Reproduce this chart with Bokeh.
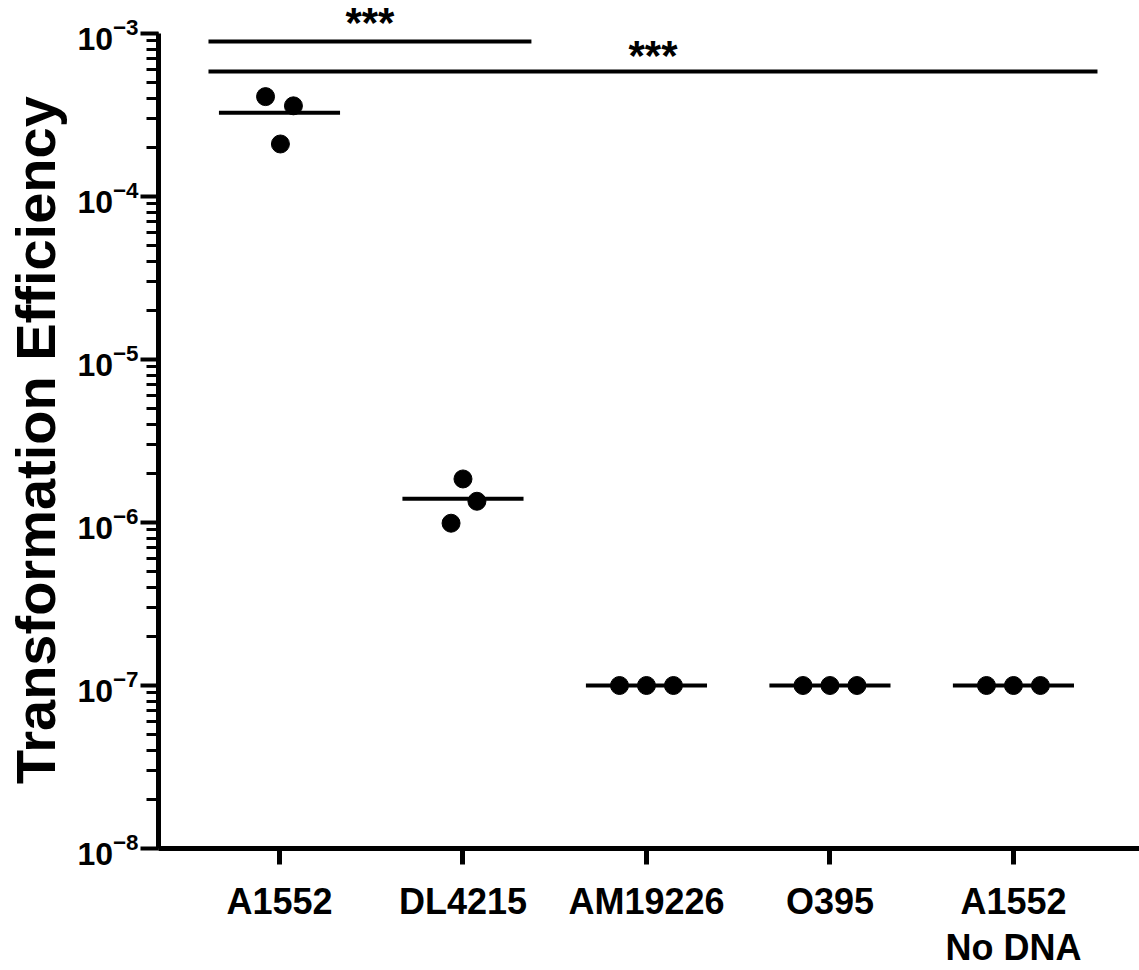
from bokeh.plotting import figure
from bokeh.models import FixedTicker, LogTicker, LinearAxis
from bokeh.core.properties import value
from bokeh.embed import file_html
from bokeh.resources import INLINE

# ---- data ----
groups = ["A1552", "DL4215", "AM19226", "O395", "A1552\nNo DNA"]
vals_A1552 = [4.1e-4, 3.6e-4, 2.1e-4]
vals_DL4215 = [1.85e-6, 1.35e-6, 0.99e-6]
vals_AM19226 = [1e-7, 1e-7, 1e-7]
vals_O395 = [1e-7, 1e-7, 1e-7]
vals_NoDNA = [1e-7, 1e-7, 1e-7]
all_vals = [vals_A1552, vals_DL4215, vals_AM19226, vals_O395, vals_NoDNA]
# horizontal scatter offsets of the replicate dots (category units)
jitter = [[-0.076, 0.076, 0.005],
          [0.0, 0.076, -0.065],
          [-0.147, 0.0, 0.147],
          [-0.147, 0.0, 0.147],
          [-0.147, 0.0, 0.147]]
sig_labels = ["***", "***"]
y_title = "Transformation Efficiency"

FONT = "Liberation Sans"
X0, X1 = 0.3406, 5.687
YTOP = -2.7975

p = figure(width=1139, height=970, output_backend="svg", toolbar_location=None,
           y_axis_type="log", x_range=(X0, X1), y_range=(1e-8, 10 ** YTOP),
           min_border_left=158, min_border_right=0, min_border_top=0, min_border_bottom=0)
p.outline_line_color = None
p.grid.visible = False
p.background_fill_color = "white"
p.border_fill_color = "white"

# dots
xs, ys = [], []
for i, (vals, jit) in enumerate(zip(all_vals, jitter)):
    for v, j in zip(vals, jit):
        xs.append(i + 1 + j)
        ys.append(v)
p.scatter(xs, ys, size=18, color="black")

# mean lines
mx0, mx1, my = [], [], []
for i, vals in enumerate(all_vals):
    m = sum(vals) / len(vals)
    mx0.append(i + 1 - 0.33)
    mx1.append(i + 1 + 0.33)
    my.append(m)
p.segment(x0=mx0, y0=my, x1=mx1, y1=my, line_width=4, color="black")

# significance bars
bar_x0 = [0.613, 0.613]
bar_x1 = [2.373, 5.458]
bar_y = [8.93e-4, 5.85e-4]
text_y = [10 ** -2.935, 10 ** -3.135]
p.segment(x0=bar_x0, y0=bar_y, x1=bar_x1, y1=bar_y, line_width=4, color="black")
p.text(x=[(a + b) / 2 for a, b in zip(bar_x0, bar_x1)], y=text_y, text=sig_labels,
       text_font=value(FONT), text_font_style="bold", text_font_size="42px",
       text_align="center", text_baseline="alphabetic", text_color="black")

# x axis (first label line)
first_lines = [g.split("\n")[0] for g in groups]
second_lines = {i + 1: g.split("\n")[1] for i, g in enumerate(groups) if "\n" in g}

xa = p.xaxis[0]
xa.ticker = FixedTicker(ticks=[1, 2, 3, 4, 5], minor_ticks=[])
xa.major_label_overrides = {i + 1: t for i, t in enumerate(first_lines)}
xa.axis_line_width = 5
xa.axis_line_color = "black"
xa.major_tick_line_width = 5
xa.major_tick_in = 0
xa.major_tick_out = 16
xa.major_label_standoff = 16
xa.major_label_text_font = FONT
xa.major_label_text_font_style = "bold"
xa.major_label_text_font_size = "36px"
xa.major_label_text_color = "black"

# second label line
xa2 = LinearAxis(ticker=FixedTicker(ticks=list(second_lines.keys()), minor_ticks=[]),
                 major_label_overrides=second_lines)
xa2.axis_line_color = None
xa2.major_tick_line_color = None
xa2.major_tick_in = 0
xa2.major_tick_out = 0
xa2.minor_tick_line_color = None
xa2.major_label_standoff = 2
xa2.major_label_text_font = FONT
xa2.major_label_text_font_style = "bold"
xa2.major_label_text_font_size = "36px"
xa2.major_label_text_color = "black"
p.add_layout(xa2, "below")

# y axis
ya = p.yaxis[0]
ya.bounds = (1e-8, 1e-3)
ya.ticker = LogTicker(num_minor_ticks=10)
ya.axis_line_width = 5
ya.axis_line_color = "black"
ya.major_tick_line_width = 4
ya.major_tick_in = 0
ya.major_tick_out = 18
ya.minor_tick_line_width = 3
ya.minor_tick_in = 0
ya.minor_tick_out = 12
ya.major_label_standoff = 2
ya.major_label_text_font = FONT
ya.major_label_text_font_style = "bold"
ya.major_label_text_font_size = "32px"
ya.major_label_text_color = "black"
ya.axis_label = y_title + "\u00a0\u00a0"
ya.axis_label_text_font = FONT
ya.axis_label_text_font_style = "bold"
ya.axis_label_text_font_size = "56px"
ya.axis_label_text_color = "black"
ya.axis_label_standoff = 7

open("out.html", "w").write(file_html(p, INLINE))
